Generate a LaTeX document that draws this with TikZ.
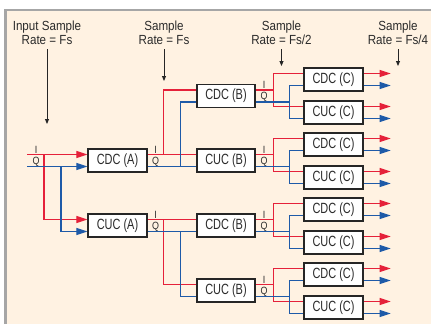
\documentclass[tikz,border=0pt]{standalone}
\usepackage{fontspec}
\setmainfont{Liberation Sans}[FakeStretch=0.88]
\newfontfamily\boxfont{Liberation Sans}[FakeStretch=0.74]
\newfontfamily\labfont{Liberation Sans}[FakeStretch=0.85]
\usetikzlibrary{arrows.meta,calc}
\definecolor{cream}{HTML}{FFF2E2}
\definecolor{framegray}{HTML}{A6A6A6}
\definecolor{myred}{HTML}{E5213A}
\definecolor{myblue}{HTML}{1E5AA8}
\definecolor{txt}{HTML}{2B2B2B}
\definecolor{boxline}{HTML}{262626}
\pgfdeclarelayer{bgzero}
\pgfdeclarelayer{bgone}
\pgfsetlayers{bgzero,bgone,main}
\begin{document}
\begin{tikzpicture}[x=1pt,y=-1pt,
  box/.style={draw=boxline, line width=1.8pt, fill=white, minimum width=58.5pt, minimum height=23pt, inner sep=0pt, font=\boxfont\fontsize{14.8}{16}\selectfont, text=txt},
  head/.style={align=center, font=\fontsize{13.2}{14.3}\selectfont, text=txt, inner sep=0pt, text depth=0pt, anchor=south},
  lab/.style={font=\labfont\fontsize{10.5}{10.5}\selectfont, text=txt, inner sep=0pt},
  rl/.style={draw=myred, line width=1.1pt},
  bl/.style={draw=myblue, line width=1.1pt},
  tip/.style={-{Triangle[length=11pt,width=7pt]}},
  harr/.style={draw=black!85, line width=0.9pt, -{Triangle[length=5pt,width=4pt]}}
]
\useasboundingbox (0,0) rectangle (431,324);
\begin{pgfonlayer}{bgzero}
\fill[white] (0,0) rectangle (431,324);
\fill[cream] (5.5,10) rectangle (431,324);
\draw[framegray, line width=2.4pt] (5.5,324) -- (5.5,10) -- (431,10);
\end{pgfonlayer}

% header labels
\node[head] (h1) at (47,45) {Input Sample\\Rate = Fs};
\node[head] (h2) at (164,45) {Sample\\Rate = Fs};
\node[head] (h3) at (281.5,45) {Sample\\Rate = Fs/2};
\node[head] (h4) at (398,45) {Sample\\Rate = Fs/4};
\coordinate (h1e) at (47,124);
\coordinate (h2e) at (164,81);
\coordinate (h3e) at (281.5,66);
\coordinate (h4e) at (398,66);
\draw[harr] ([yshift=-4pt]h1.south) -- (h1e);
\draw[harr] ([yshift=-4pt]h2.south) -- (h2e);
\draw[harr] ([yshift=-4pt]h3.south) -- (h3e);
\draw[harr] ([yshift=-4pt]h4.south) -- (h4e);

% boxes
\node[box] (A1) at (117.5,160.5) {CDC (A)};
\node[box] (A2) at (117.5,225.5) {CUC (A)};
\node[box] (B1) at (226,96) {CDC (B)};
\node[box] (B2) at (226,160.5) {CUC (B)};
\node[box] (B3) at (226,225.5) {CDC (B)};
\node[box] (B4) at (226,290.5) {CUC (B)};
\node[box] (C1) at (333.5,79.5) {CDC (C)};
\node[box] (C2) at (333.5,112.5) {CUC (C)};
\node[box] (C3) at (333.5,144.5) {CDC (C)};
\node[box] (C4) at (333.5,177.5) {CUC (C)};
\node[box] (C5) at (333.5,209.5) {CDC (C)};
\node[box] (C6) at (333.5,242.5) {CUC (C)};
\node[box] (C7) at (333.5,274.5) {CDC (C)};
\node[box] (C8) at (333.5,307.5) {CUC (C)};

% inputs
\coordinate (inI) at (27,154.5);
\coordinate (inQ) at (27,166.5);
\node[lab] (l0i) at ($(inI)+(9,-5)$) {I};
\node[lab] (l0q) at ($(inQ)+(9,-5)$) {Q};

\begin{pgfonlayer}{bgone}
\draw[rl,tip] (inI) -- ([yshift=6pt]A1.west);
\draw[rl,tip] ($(inI)+(17,0)$) |- ([yshift=6pt]A2.west);
\draw[bl,tip] (inQ) -- ([yshift=-6pt]A1.west);
\draw[bl,tip] ($(inQ)+(34,0)$) |- ([yshift=-6pt]A2.west);

% A outputs
\draw[rl] ([yshift=6pt]A1.east) -- ([yshift=6pt]B2.west);
\draw[rl] ($([yshift=6pt]A1.east)+(16,0)$) |- ([yshift=6pt]B1.west);
\draw[bl] ([yshift=-6pt]A1.east) -- ([yshift=-6pt]B2.west);
\draw[bl] ($([yshift=-6pt]A1.east)+(33,0)$) |- ([yshift=-6pt]B1.west);
\draw[rl] ([yshift=6pt]A2.east) -- ([yshift=6pt]B3.west);
\draw[rl] ($([yshift=6pt]A2.east)+(16,0)$) |- ([yshift=6pt]B4.west);
\draw[bl] ([yshift=-6pt]A2.east) -- ([yshift=-6pt]B3.west);
\draw[bl] ($([yshift=-6pt]A2.east)+(33,0)$) |- ([yshift=-6pt]B4.west);

% B outputs
\foreach \b/\cu/\cd in {B1/C1/C2, B2/C3/C4, B3/C5/C6, B4/C7/C8} {
  \draw[rl] ([yshift=6pt]\b.east) -- ++(17,0);
  \draw[rl] ([yshift=6pt]\cu.west) -| ($([yshift=6pt]\b.east)+(17,0)$) |- ([yshift=6pt]\cd.west);
  \draw[bl] ([yshift=-6pt]\b.east) -- ++(33,0);
  \draw[bl] ([yshift=-6pt]\cu.west) -| ($([yshift=-6pt]\b.east)+(33,0)$) |- ([yshift=-6pt]\cd.west);
}

% C outputs
\foreach \c in {C1,C2,C3,C4,C5,C6,C7,C8} {
  \draw[rl,tip] ([yshift=6pt]\c.east) -- ++(27,0);
  \draw[bl,tip] ([yshift=-6pt]\c.east) -- ++(27,0);
}
\end{pgfonlayer}

% I/Q labels
\foreach \a in {A1,A2,B1,B2,B3,B4} {
  \node[lab] at ($([yshift=6pt]\a.east)+(8,-5)$) {I};
  \node[lab] at ($([yshift=-6pt]\a.east)+(8,-5)$) {Q};
}
\end{tikzpicture}
\end{document}
